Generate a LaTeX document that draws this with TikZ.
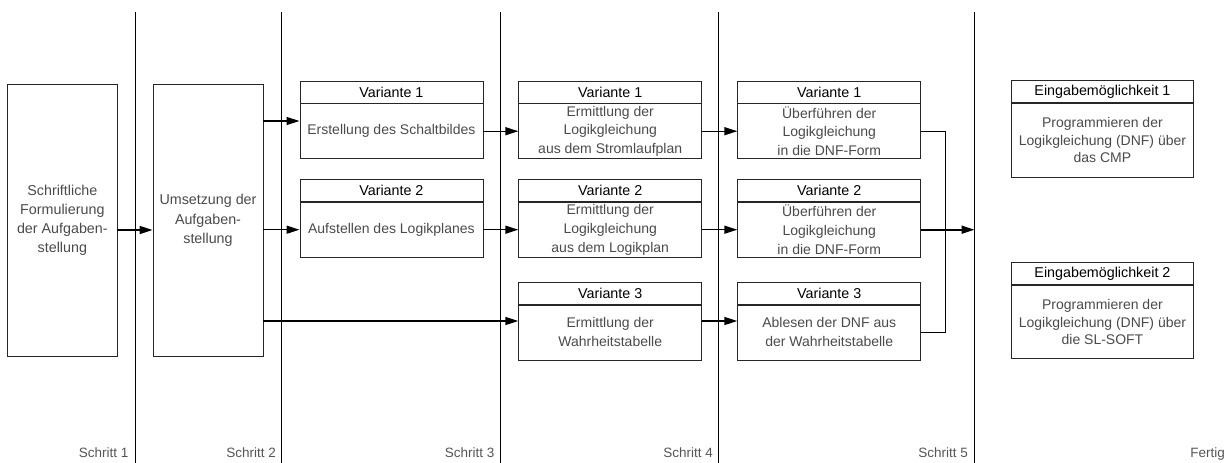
\documentclass[tikz,border=0pt]{standalone}
\usepackage{fontspec}
\setmainfont{Liberation Sans}
\usetikzlibrary{arrows.meta}
\definecolor{txtgray}{HTML}{4A4A4A}
\definecolor{lblgray}{HTML}{555555}
\begin{document}
\begin{tikzpicture}[x=1pt,y=-1pt,
  every node/.style={inner sep=0pt},
  frame/.style={draw=black!85, line width=0.8pt},
  hdr/.style={frame, anchor=north west, minimum width=183, minimum height=22,
    font=\fontsize{14.3}{16}\selectfont, text=black},
  body/.style={frame, anchor=north west, minimum width=183, minimum height=55,
    align=center, text=txtgray, font=\fontsize{14}{18.7}\selectfont},
  bigbox/.style={frame, minimum width=110, minimum height=272.7, align=center,
    text=txtgray, font=\fontsize{14.3}{19.3}\selectfont},
  sep/.style={draw=black, line width=0.8pt},
  conn/.style={draw=black, line width=1.4pt},
  arr/.style={conn, -{Triangle[length=13pt,width=8pt]}},
  steplbl/.style={anchor=base east, text=lblgray, font=\fontsize{13.5}{16}\selectfont}
]
\useasboundingbox (0,0) rectangle (1229,463);

% separators
\foreach \n/\x in {a/135.5, b/281.7, c/500, d/718.5, e/974.5} {
  \coordinate (t\n) at (\x,11.5);
  \coordinate (u\n) at (\x,463);
  \draw[sep] (t\n) -- (u\n);
}

% step labels
\node[steplbl] (l1) at (128.5,457) {Schritt 1};
\node[steplbl] (l2) at (276,457) {Schritt 2};
\node[steplbl] (l3) at (494.5,457) {Schritt 3};
\node[steplbl] (l4) at (713,457) {Schritt 4};
\node[steplbl] (l5) at (968,457) {Schritt 5};
\node[steplbl] (l6) at (1225,457) {Fertig};

% big boxes
\node[bigbox, minimum width=109.3] (s1) at (62.35,220.35)
  {Schriftliche\\Formulierung\\der Aufgaben-\\stellung};
\node[bigbox] (s2) at (208,220.35)
  {Umsetzung der\\Aufgaben-\\stellung};

% column 3
\node[hdr] (v31h) at (299.5,80.5) {Variante 1};
\node[body] (v31b) at (v31h.south west) {Erstellung des Schaltbildes};
\node[hdr] (v32h) at (299.5,179) {Variante 2};
\node[body] (v32b) at (v32h.south west) {Aufstellen des Logikplanes};

% column 4
\node[hdr] (v41h) at (518.3,80.5) {Variante 1};
\node[body] (v41b) at (v41h.south west) {Ermittlung der\\Logikgleichung\\aus dem Stromlaufplan};
\node[hdr] (v42h) at (518.3,179) {Variante 2};
\node[body] (v42b) at (v42h.south west) {Ermittlung der\\Logikgleichung\\aus dem Logikplan};
\node[hdr] (v43h) at (518.3,281.7) {Variante 3};
\node[body, font=\fontsize{14}{19}\selectfont] (v43b) at (v43h.south west) {Ermittlung der\\Wahrheitstabelle};

% column 5
\node[hdr] (v51h) at (737.3,80.5) {Variante 1};
\node[body] (v51b) at (v51h.south west) {Überführen der\\Logikgleichung\\in die DNF-Form};
\node[hdr] (v52h) at (737.3,179) {Variante 2};
\node[body] (v52b) at (v52h.south west) {Überführen der\\Logikgleichung\\in die DNF-Form};
\node[hdr] (v53h) at (737.3,281.7) {Variante 3};
\node[body, font=\fontsize{14}{19}\selectfont] (v53b) at (v53h.south west) {Ablesen der DNF aus\\der Wahrheitstabelle};

% column 6
\node[hdr, minimum width=182.7] (e1h) at (1010.7,80.3) {Eingabemöglichkeit 1};
\node[body, minimum width=182.7, minimum height=73.4, font=\fontsize{14}{17.5}\selectfont] (e1b) at (e1h.south west)
  {Programmieren der\\Logikgleichung (DNF) über\\das CMP};
\node[hdr, minimum width=182.7] (e2h) at (1010.7,262.3) {Eingabemöglichkeit 2};
\node[body, minimum width=182.7, minimum height=73, font=\fontsize{14}{17.5}\selectfont] (e2b) at (e2h.south west)
  {Programmieren der\\Logikgleichung (DNF) über\\die SL-SOFT};

% connectors
\draw[arr] (s1.east |- 0,230) -- (s2.west |- 0,230);
\draw[arr] (s2.east |- 0,121) -- (v31b.west |- 0,121);
\draw[arr] (s2.east |- v32b.west) -- (v32b.west);
\draw[arr] (s2.east |- 0,321) -- (v43b.west |- 0,321);

\draw[arr] (v31b.east) -- (v41b.west);
\draw[arr] (v32b.east) -- (v42b.west);
\draw[arr] (v41b.east) -- (v51b.west);
\draw[arr] (v42b.east) -- (v52b.west);
\draw[arr] (v43b.east |- 0,321) -- (v53b.west |- 0,321);

\coordinate (mx) at (945.7,0);
\draw[conn, line join=miter] (v51b.east) -- (v51b.east -| mx) -- (v53b.east -| mx) -- (v53b.east);
\draw[arr, line width=1.9pt] (v52b.east) -- (v52b.east -| te);
\end{tikzpicture}
\end{document}
